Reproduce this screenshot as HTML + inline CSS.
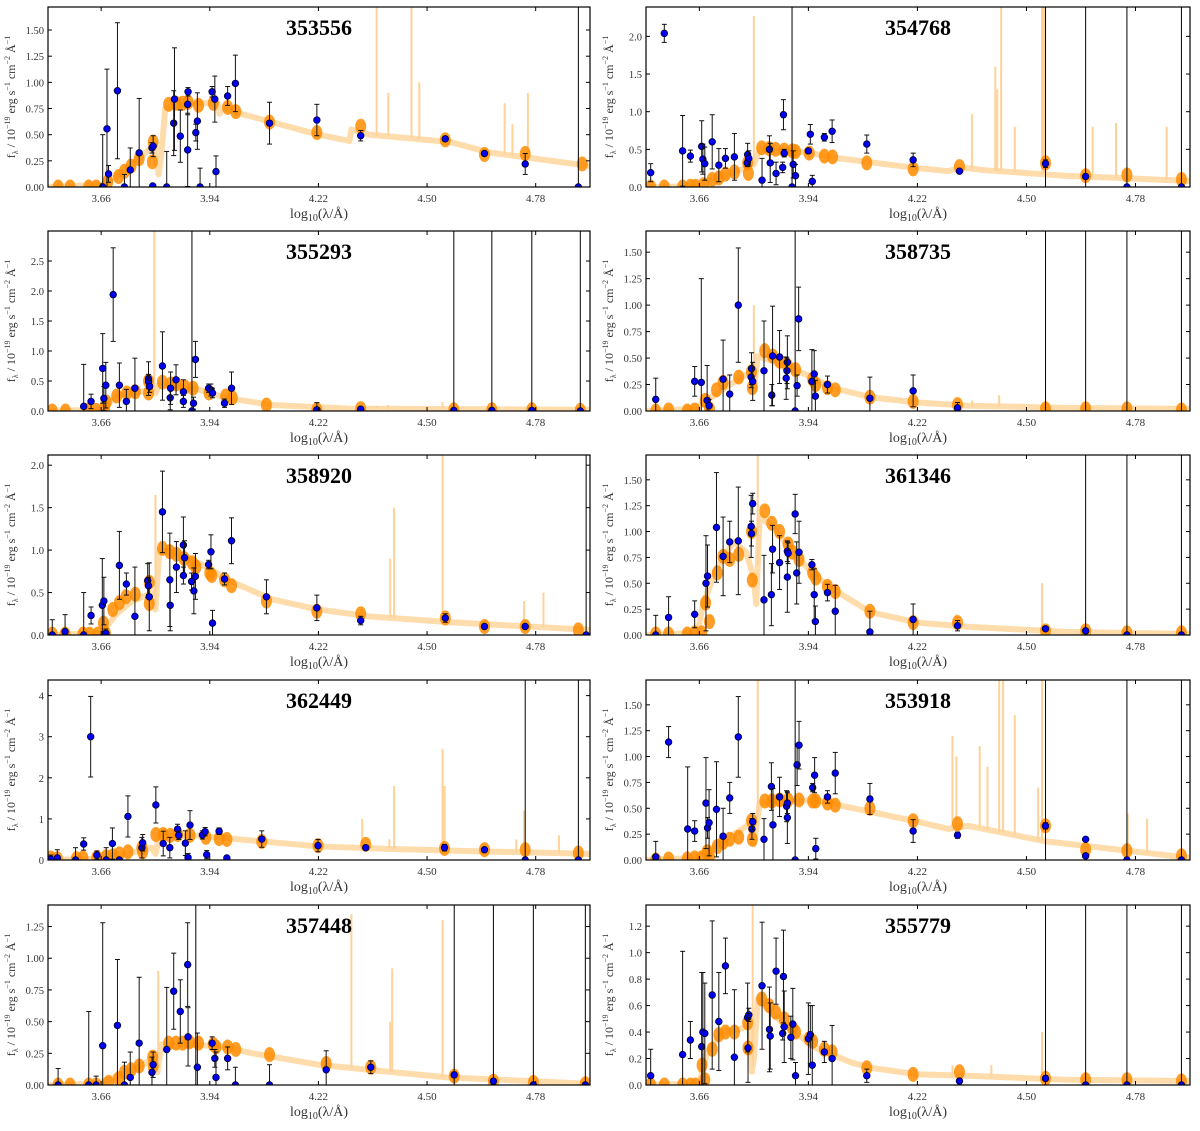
<!DOCTYPE html>
<html><head><meta charset="utf-8">
<style>
html,body{margin:0;padding:0;background:#fff;}
svg text{font-family:"Liberation Serif",serif;}
</style></head>
<body>
<svg id="fig" width="1200" height="1126" xmlns="http://www.w3.org/2000/svg"></svg>
<script>
// ---- data (log10 lambda, flux) ----
const xTicks=[3.66,3.94,4.22,4.50,4.78];
const xTickLabels=["3.66","3.94","4.22","4.50","4.78"];
const panelNames=["353556","354768","355293","358735","358920","361346","362449","353918","357448","355779"];
const panelYMax=[1.72,2.39,3.0,1.70,2.12,1.74,4.38,1.74,1.42,1.36];
const panelYTicks=[[0,0.25,0.5,0.75,1,1.25,1.5],[0,0.5,1,1.5,2],[0,0.5,1,1.5,2,2.5],[0,0.25,0.5,0.75,1,1.25,1.5],[0,0.5,1,1.5,2],[0,0.25,0.5,0.75,1,1.25,1.5],[0,1,2,3,4],[0,0.25,0.5,0.75,1,1.25,1.5],[0,0.25,0.5,0.75,1,1.25],[0,0.2,0.4,0.6,0.8,1,1.2]];
const panelYTickLabels=[["0.00","0.25","0.50","0.75","1.00","1.25","1.50"],["0.0","0.5","1.0","1.5","2.0"],["0.0","0.5","1.0","1.5","2.0","2.5"],["0.00","0.25","0.50","0.75","1.00","1.25","1.50"],["0.0","0.5","1.0","1.5","2.0"],["0.00","0.25","0.50","0.75","1.00","1.25","1.50"],["0","1","2","3","4"],["0.00","0.25","0.50","0.75","1.00","1.25","1.50"],["0.00","0.25","0.50","0.75","1.00","1.25"],["0.0","0.2","0.4","0.6","0.8","1.0","1.2"]];

// observed photometry [x, y, err]
const obs0=[[3.664,0,0.5],[3.675,0.556,0.57],[3.679,0.125,0.08],[3.702,0.92,0.65],[3.720,0,0.12],[3.735,0.163,0.21],[3.758,0.326,0.52],[3.791,0.374,0.05],[3.794,0.39,0.1],[3.793,0.01,0],[3.829,0,0.34],[3.847,0.61,0.31],[3.849,0.84,0.49],[3.864,0.486,0.25],[3.883,0.79,0.1],[3.884,0.91,0.04],[3.883,0.355,0.35],[3.904,0.52,0.08],[3.908,0.63,0.27],[3.915,0,0.18],[3.946,0.91,0.05],[3.953,0.84,0.22],[3.956,0.147,0.15],[3.986,0.87,0.09],[4.006,0.99,0.27],[4.094,0.61,0.2],[4.216,0.64,0.15],[4.329,0.49,0.05],[4.547,0.46,0.02],[4.648,0.32,0.02],[4.753,0.22,0.1],[4.89,0,0]];
const obs1=[[3.535,0.19,0.12],[3.57,2.04,0.12],[3.617,0.48,0.47],[3.637,0.41,0.08],[3.666,0.54,0.34],[3.669,0.37,0.2],[3.674,0.31,0.22],[3.693,0.6,0.36],[3.71,0.29,0.22],[3.727,0.38,0.13],[3.75,0.4,0.31],[3.784,0.43,0.15],[3.783,0.32,0.05],[3.787,0.38,0.1],[3.821,0.09,0.29],[3.84,0.5,0.18],[3.842,0.32,0.26],[3.857,0.18,0.15],[3.874,0.26,0.07],[3.876,0.96,0.2],[3.878,0.45,0.05],[3.901,0.3,0.18],[3.907,0.15,0.15],[3.94,0.48,0.03],[3.945,0.7,0.13],[3.95,0.075,0.08],[3.981,0.66,0.05],[4.001,0.74,0.15],[4.09,0.57,0.12],[4.209,0.36,0.09],[4.328,0.21,0.03],[4.549,0.31,0.05],[4.652,0.14,0.02],[4.758,0,0],[4.898,0,0],[3.898,0,0]];
const obs2=[[3.615,0.077,0.7],[3.634,0.16,0.12],[3.664,0.71,0.58],[3.667,0.21,0.2],[3.672,0.43,0.38],[3.691,1.94,0.78],[3.707,0.43,0.37],[3.725,0.16,0.2],[3.747,0.38,0.5],[3.782,0.54,0.28],[3.782,0.49,0.12],[3.785,0.41,0.1],[3.818,0.75,0.57],[3.838,0.22,0.2],[3.839,0.38,0.27],[3.853,0.52,0.25],[3.872,0.32,0.2],[3.872,0.16,0.1],[3.894,0,0],[3.898,0.13,0.1],[3.903,0.86,0.3],[3.937,0.38,0.07],[3.943,0.35,0.1],[3.947,0.3,0.08],[3.978,0.13,0.07],[3.996,0.38,0.27],[4.216,0.02,0.12],[4.329,0.03,0.03],[4.569,0.01,0],[4.667,0.01,0],[4.77,0.01,0],[4.895,0,0]];
const obs3=[[3.548,0.11,0.2],[3.648,0.28,0.14],[3.665,0.27,0.98],[3.68,0.1,0.33],[3.685,0.05,0.06],[3.721,0.3,0.37],[3.738,0.16,0.18],[3.76,1.0,0.54],[3.793,0.32,0.1],[3.794,0.4,0.15],[3.797,0.28,0.18],[3.826,0.38,0.47],[3.846,0.15,0.1],[3.848,0.52,0.47],[3.866,0.51,0.25],[3.886,0.46,0.25],[3.885,0.38,0.12],[3.883,0.31,0.2],[3.911,0.24,0.1],[3.915,0.87,0.3],[3.949,0.28,0.3],[3.955,0.35,0.22],[3.958,0.14,0.15],[3.989,0.25,0.08],[4.098,0.12,0.2],[4.209,0.19,0.15],[4.323,0.03,0.05],[3.906,0,0]];
const obs4=[[3.534,0,0.18],[3.567,0.04,0.2],[3.615,0,0.5],[3.634,0.23,0.1],[3.663,0.35,0.55],[3.667,0.4,0.28],[3.672,0.02,0.05],[3.707,0.82,0.4],[3.725,0.6,0.13],[3.747,0.22,0.58],[3.780,0.64,0.2],[3.782,0.58,0.1],[3.784,0.45,0.4],[3.818,1.45,0.48],[3.838,0.35,0.3],[3.837,0.65,0.55],[3.854,0.8,0.3],[3.872,1.06,0.33],[3.875,0.91,0.2],[3.872,0.7,0.1],[3.893,0.63,0.1],[3.899,0.52,0.27],[3.903,0.69,0.27],[3.937,0.83,0.05],[3.943,0.98,0.2],[3.947,0.14,0.15],[3.978,0.66,0.07],[3.996,1.11,0.27],[4.086,0.45,0.2],[4.216,0.32,0.15],[4.329,0.17,0.05],[4.547,0.2,0.05],[4.648,0.1,0.02],[4.753,0.1,0.02],[4.91,0,0]];
const obs5=[[3.548,0,0.19],[3.581,0.17,0.2],[3.648,0.2,0.13],[3.677,0.5,0.46],[3.681,0.57,0.3],[3.704,1.04,0.53],[3.721,0.76,0.38],[3.738,0.9,0.2],[3.76,0.91,0.52],[3.793,1.05,0.3],[3.794,0.98,0.12],[3.797,1.27,0.1],[3.826,0.34,0.43],[3.845,0.39,0.3],[3.848,0.83,0.23],[3.866,0.7,0.26],[3.886,0.56,0.34],[3.886,0.81,0.1],[3.888,0.79,0.1],[3.906,1.17,0.19],[3.91,0.6,0.3],[3.916,0.8,0.3],[3.949,0.68,0.05],[3.955,0.39,0.25],[3.958,0.13,0.15],[3.989,0.41,0.08],[4.009,0.23,0.25],[4.098,0.03,0.2],[4.209,0.15,0.15],[4.323,0.09,0.05],[4.549,0.06,0.02],[4.652,0.04,0.02],[4.758,0,0],[4.898,0,0]];
const obs6=[[3.53,0.02,0.1],[3.547,0.05,0.2],[3.594,0,0.3],[3.615,0.39,0.15],[3.633,3.0,0.98],[3.649,0.12,0.1],[3.673,0,0.3],[3.689,0.4,0.38],[3.707,0,0],[3.729,1.06,0.5],[3.765,0.3,0.25],[3.767,0.42,0.2],[3.801,1.34,0.44],[3.820,0.4,0.3],[3.837,0.3,0.25],[3.857,0.75,0.12],[3.860,0.6,0.1],[3.877,0.41,0.3],[3.889,0.85,0.35],[3.884,0.06,0.1],[3.921,0.61,0.1],[3.928,0.69,0.1],[3.932,0.13,0.1],[3.964,0.7,0.08],[3.984,0.05,0.05],[4.074,0.51,0.2],[4.219,0.35,0.15],[4.342,0.3,0.05],[4.545,0.3,0.08],[4.648,0.25,0.05],[4.753,0,0],[4.89,0,0]];
const obs7=[[3.548,0.03,0.15],[3.581,1.14,0.15],[3.63,0.3,0.6],[3.648,0.28,0.1],[3.677,0.55,0.44],[3.681,0.31,0.1],[3.685,0.36,0.32],[3.704,0.49,0.46],[3.721,0.23,0.27],[3.738,0.6,0.15],[3.76,1.19,0.39],[3.795,0.3,0.1],[3.797,0.37,0.08],[3.826,0.2,0.2],[3.845,0.71,0.23],[3.849,0.34,0.35],[3.866,0.61,0.19],[3.884,0.52,0.15],[3.886,0.55,0.1],[3.886,0.41,0.25],[3.911,0.92,0.2],[3.916,1.11,0.23],[3.951,0.7,0.04],[3.956,0.82,0.17],[3.959,0.11,0.1],[3.989,0.61,0.06],[4.009,0.84,0.2],[4.098,0.59,0.15],[4.209,0.28,0.11],[4.323,0.24,0.03],[4.549,0.33,0.03],[4.652,0.2,0.02],[4.652,0.04,0.02],[3.906,0,0],[4.758,0,0],[4.898,0,0]];
const obs8=[[3.549,0,0.13],[3.628,0,0.58],[3.647,0,0.07],[3.664,0.31,0.97],[3.702,0.47,0.52],[3.720,0,0.18],[3.735,0.06,0.2],[3.758,0.33,0.52],[3.791,0.1,0.12],[3.794,0.16,0.1],[3.829,0.28,0.49],[3.847,0.74,0.3],[3.864,0.58,0.25],[3.883,0.95,0.33],[3.884,0.38,0.23],[3.908,0.14,0.27],[3.946,0.33,0.05],[3.953,0.21,0.07],[3.956,0.06,0.2],[3.986,0.21,0.09],[4.006,0,0.14],[4.094,0,0.16],[4.24,0.12,0.15],[4.355,0.14,0.05],[4.57,0.08,0.02],[4.671,0.03,0.02],[4.774,0,0],[4.908,0,0]];
const obs9=[[3.535,0.07,0.2],[3.617,0.23,0.78],[3.637,0.34,0.14],[3.666,0.29,0.56],[3.669,0.4,0.45],[3.674,0.39,0.38],[3.693,0.68,0.56],[3.71,0.48,0.37],[3.727,0.9,0.21],[3.75,0.21,0.51],[3.784,0.51,0.26],[3.787,0.53,0.05],[3.785,0.28,0.26],[3.821,0.75,0.48],[3.84,0.42,0.32],[3.842,0.37,0.25],[3.857,0.86,0.25],[3.874,0.39,0.05],[3.876,0.82,0.35],[3.878,0.44,0.27],[3.9,0.46,0.27],[3.895,0.36,0.16],[3.907,0.07,0.1],[3.94,0.35,0.27],[3.945,0.38,0.22],[3.95,0.15,0.45],[3.981,0.25,0.08],[4.001,0.2,0.25],[4.09,0.07,0.05],[4.328,0.03,0.02],[4.549,0.05,0.02],[4.652,0,0],[4.758,0,0],[4.898,0,0]];
const panelObs=[obs0,obs1,obs2,obs3,obs4,obs5,obs6,obs7,obs8,obs9];

// x positions of error bars extending off the top of the axes
const panelBigErr=[[4.89],[3.898,4.549,4.652,4.758,4.898],[3.894,4.569,4.667,4.77,4.895],[3.906,4.549,4.652,4.758,4.898],[4.91],[4.652,4.758,4.898],[4.753,4.89],[3.906,4.549,4.758,4.898],[3.904,4.57,4.671,4.774,4.908],[4.549,4.652,4.758,4.898]];

// model photometry [x, y]
const mod0=[[3.549,0],[3.58,0],[3.628,0],[3.647,0],[3.677,0.05],[3.705,0.1],[3.72,0.15],[3.737,0.2],[3.758,0.27],[3.794,0.43],[3.792,0.24],[3.834,0.79],[3.853,0.8],[3.870,0.8],[3.884,0.81],[3.911,0.78],[3.949,0.8],[3.986,0.76],[4.007,0.72],[4.094,0.62],[4.216,0.52],[4.329,0.58],[4.547,0.45],[4.648,0.31],[4.753,0.32],[4.90,0.22]];
const mod1=[[3.535,0],[3.57,0],[3.617,0],[3.637,0.01],[3.65,0.01],[3.671,0.03],[3.693,0.1],[3.71,0.12],[3.727,0.17],[3.75,0.2],[3.784,0.32],[3.786,0.18],[3.82,0.52],[3.839,0.51],[3.856,0.5],[3.878,0.49],[3.899,0.48],[3.907,0.47],[3.942,0.45],[3.981,0.41],[4.002,0.4],[4.09,0.32],[4.209,0.24],[4.328,0.27],[4.549,0.32],[4.652,0.15],[4.758,0.16],[4.898,0.1]];
const mod2=[[3.534,0],[3.568,0],[3.626,0.01],[3.647,0.01],[3.669,0.05],[3.673,0.15],[3.70,0.25],[3.726,0.3],[3.748,0.32],[3.782,0.3],[3.782,0.5],[3.818,0.48],[3.840,0.45],[3.854,0.45],[3.876,0.4],[3.897,0.38],[3.938,0.3],[3.981,0.25],[3.998,0.22],[4.086,0.1],[4.216,0.02],[4.329,0.04],[4.569,0.02],[4.667,0.02],[4.77,0.02],[4.895,0.01]];
const mod3=[[3.548,0],[3.581,0.01],[3.629,0],[3.648,0.01],[3.675,0.1],[3.686,0.02],[3.704,0.2],[3.721,0.27],[3.761,0.32],[3.794,0.37],[3.796,0.22],[3.828,0.57],[3.848,0.52],[3.866,0.47],[3.886,0.43],[3.907,0.39],[3.951,0.3],[3.959,0.25],[3.989,0.22],[4.009,0.2],[4.098,0.13],[4.209,0.09],[4.323,0.06],[4.549,0.02],[4.652,0.02],[4.758,0.02],[4.898,0.01]];
const mod4=[[3.534,0.01],[3.567,0.01],[3.613,0.01],[3.63,0.01],[3.651,0.01],[3.666,0.14],[3.671,0.02],[3.69,0.3],[3.707,0.38],[3.724,0.45],[3.748,0.48],[3.784,0.62],[3.784,0.37],[3.818,1.02],[3.837,0.98],[3.854,0.95],[3.874,0.9],[3.895,0.85],[3.904,0.8],[3.940,0.73],[3.945,0.7],[3.978,0.65],[3.996,0.58],[4.086,0.4],[4.216,0.28],[4.329,0.25],[4.547,0.2],[4.648,0.1],[4.753,0.1],[4.89,0.06]];
const mod5=[[3.548,0.01],[3.581,0.01],[3.629,0.01],[3.648,0.02],[3.666,0.02],[3.676,0.31],[3.686,0.13],[3.706,0.6],[3.721,0.76],[3.738,0.73],[3.761,0.78],[3.794,1.0],[3.796,0.53],[3.828,1.2],[3.846,1.08],[3.866,1.0],[3.888,0.88],[3.899,0.8],[3.916,0.73],[3.951,0.6],[3.959,0.55],[3.989,0.47],[4.009,0.42],[4.098,0.23],[4.209,0.12],[4.323,0.12],[4.549,0.04],[4.652,0.04],[4.758,0.02],[4.898,0.02]];
const mod6=[[3.53,0.05],[3.547,0.03],[3.596,0.03],[3.613,0.05],[3.649,0.06],[3.673,0.08],[3.69,0.1],[3.707,0.15],[3.729,0.2],[3.765,0.3],[3.767,0.2],[3.801,0.62],[3.820,0.62],[3.838,0.6],[3.857,0.62],[3.889,0.6],[3.93,0.55],[3.964,0.52],[3.984,0.5],[4.074,0.45],[4.219,0.35],[4.342,0.38],[4.545,0.28],[4.648,0.25],[4.753,0.25],[4.89,0.17]];
const mod7=[[3.548,0],[3.581,0.01],[3.629,0.01],[3.648,0.02],[3.666,0.02],[3.68,0.08],[3.686,0.03],[3.706,0.13],[3.721,0.17],[3.738,0.2],[3.761,0.22],[3.794,0.38],[3.796,0.2],[3.828,0.57],[3.846,0.57],[3.866,0.58],[3.888,0.58],[3.916,0.58],[3.951,0.57],[3.959,0.57],[3.989,0.55],[4.009,0.53],[4.098,0.5],[4.209,0.38],[4.323,0.35],[4.549,0.33],[4.652,0.1],[4.758,0.09],[4.898,0.04]];
const mod8=[[3.549,0],[3.58,0],[3.628,0],[3.647,0],[3.679,0.02],[3.705,0.05],[3.72,0.1],[3.737,0.12],[3.758,0.15],[3.793,0.22],[3.794,0.15],[3.834,0.33],[3.853,0.33],[3.870,0.33],[3.887,0.34],[3.911,0.33],[3.949,0.32],[3.956,0.3],[3.986,0.3],[4.007,0.28],[4.094,0.24],[4.24,0.17],[4.355,0.14],[4.57,0.07],[4.671,0.03],[4.774,0.02],[4.908,0.01]];
const mod9=[[3.535,0],[3.57,0],[3.617,0],[3.637,0],[3.65,0],[3.667,0.15],[3.674,0.04],[3.693,0.27],[3.71,0.38],[3.727,0.4],[3.75,0.4],[3.784,0.47],[3.785,0.28],[3.82,0.65],[3.839,0.6],[3.856,0.55],[3.878,0.5],[3.899,0.43],[3.907,0.4],[3.942,0.35],[3.951,0.33],[3.981,0.27],[4.001,0.25],[4.09,0.13],[4.209,0.08],[4.328,0.1],[4.549,0.05],[4.652,0.04],[4.758,0.04],[4.898,0.03]];
const panelModel=[mod0,mod1,mod2,mod3,mod4,mod5,mod6,mod7,mod8,mod9];

// model spectrum continuum [x, y]
const cont0=[[3.52,0],[3.66,0.02],[3.72,0.15],[3.79,0.38],[3.80,0.4],[3.808,0.12],[3.815,0.3],[3.825,0.75],[3.90,0.8],[3.96,0.8],[3.965,0.7],[3.975,0.76],[4.02,0.7],[4.22,0.5],[4.30,0.44],[4.305,0.55],[4.35,0.5],[4.56,0.43],[4.66,0.33],[4.92,0.2]];
const cont1=[[3.52,0],[3.64,0.01],[3.70,0.12],[3.78,0.25],[3.80,0.3],[3.815,0.5],[3.93,0.46],[4.02,0.38],[4.22,0.25],[4.30,0.21],[4.33,0.26],[4.4,0.22],[4.6,0.15],[4.92,0.08]];
const cont2=[[3.52,0],[3.66,0.02],[3.70,0.25],[3.79,0.35],[3.80,0.3],[3.81,0.45],[3.90,0.38],[3.98,0.22],[4.1,0.1],[4.3,0.04],[4.92,0.02]];
const cont3=[[3.52,0],[3.65,0.02],[3.70,0.15],[3.76,0.3],[3.79,0.36],[3.80,0.2],[3.81,0.52],[3.87,0.44],[3.95,0.32],[4.0,0.22],[4.1,0.13],[4.22,0.08],[4.35,0.05],[4.6,0.03],[4.92,0.02]];
const cont4=[[3.52,0],[3.66,0.02],[3.70,0.25],[3.74,0.4],[3.795,0.5],[3.80,0.3],[3.81,1.0],[3.87,0.95],[3.95,0.75],[4.0,0.62],[4.1,0.42],[4.22,0.3],[4.35,0.22],[4.56,0.15],[4.92,0.06]];
const cont5=[[3.52,0],[3.655,0.02],[3.67,0.3],[3.70,0.6],[3.72,0.75],[3.75,0.9],[3.78,0.8],[3.80,0.55],[3.806,0.3],[3.815,1.15],[3.86,1.0],[3.90,0.8],[3.95,0.6],[4.0,0.45],[4.1,0.22],[4.22,0.12],[4.35,0.08],[4.6,0.03],[4.92,0.01]];
const cont6=[[3.52,0],[3.65,0.03],[3.75,0.2],[3.79,0.3],[3.80,0.15],[3.81,0.58],[3.90,0.6],[4.02,0.5],[4.22,0.33],[4.4,0.27],[4.6,0.22],[4.92,0.15]];
const cont7=[[3.52,0],[3.65,0.02],[3.72,0.18],[3.79,0.35],[3.80,0.15],[3.815,0.55],[3.96,0.58],[4.03,0.52],[4.22,0.37],[4.30,0.3],[4.35,0.33],[4.55,0.18],[4.92,0.02]];
const cont8=[[3.52,0],[3.65,0.01],[3.75,0.13],[3.80,0.22],[3.805,0.1],[3.815,0.32],[3.96,0.31],[4.05,0.25],[4.22,0.16],[4.35,0.12],[4.55,0.06],[4.92,0.01]];
const cont9=[[3.52,0],[3.66,0.01],[3.68,0.25],[3.72,0.4],[3.76,0.42],[3.79,0.45],[3.795,0.1],[3.80,0.2],[3.81,0.65],[3.88,0.45],[3.96,0.28],[4.05,0.17],[4.1,0.13],[4.22,0.08],[4.35,0.07],[4.6,0.04],[4.92,0.03]];
const panelCont=[cont0,cont1,cont2,cont3,cont4,cont5,cont6,cont7,cont8,cont9];

// emission lines [x, peak]
const lines0=[[4.37,1.72],[4.40,0.9],[4.46,1.72],[4.48,1.0],[4.70,0.8],[4.76,0.9],[4.72,0.6]];
const lines1=[[3.80,2.27],[4.36,0.97],[4.42,1.6],[4.425,1.3],[4.435,2.39],[4.47,0.8],[4.54,2.39],[4.545,2.39],[4.67,0.8],[4.73,0.85],[4.86,0.8]];
const lines2=[[3.797,3.0],[4.37,0.08],[4.40,0.1],[4.54,0.15]];
const lines3=[[3.80,1.0],[4.36,0.1],[4.43,0.15]];
const lines4=[[3.80,1.65],[4.54,2.12],[4.415,1.5],[4.405,0.9],[4.33,0.3],[4.75,0.4],[4.80,0.5]];
const lines5=[[3.81,1.74],[4.32,0.2],[4.54,0.5]];
const lines6=[[4.54,2.7],[4.545,1.8],[4.415,1.8],[4.403,0.5],[4.333,1.0],[4.75,1.2],[4.73,0.5],[4.84,0.6]];
const lines7=[[3.81,1.74],[4.31,1.2],[4.32,1.0],[4.38,1.1],[4.40,0.9],[4.43,1.74],[4.44,1.74],[4.47,1.4],[4.54,1.74],[4.53,0.7],[4.76,0.45],[4.81,0.4]];
const lines8=[[3.807,0.9],[4.305,1.35],[4.41,0.92],[4.405,0.5],[4.54,1.3]];
const lines9=[[3.797,1.36],[4.54,0.4],[4.31,0.15],[4.41,0.15]];
const panelLines=[lines0,lines1,lines2,lines3,lines4,lines5,lines6,lines7,lines8,lines9];

const XMIN=3.523, XMAX=4.92;
const NS="http://www.w3.org/2000/svg";
const svg=document.getElementById('fig');
function mk(tag,attrs,parent){const e=document.createElementNS(NS,tag);for(const k in attrs)e.setAttribute(k,attrs[k]);(parent||svg).appendChild(e);return e;}

const colX=[[48,590],[646,1190]];
const rowTop=[7,231,455,680,905];
const PH=180;

panelNames.forEach((name,i)=>{
  const col=i%2,row=Math.floor(i/2);
  const x0=colX[col][0],x1=colX[col][1],y0=rowTop[row],y1=y0+PH;
  const ymax=panelYMax[i];
  const sx=v=>x0+(v-XMIN)/(XMAX-XMIN)*(x1-x0);
  const sy=v=>y1-(v/ymax)*PH;
  const g=mk('g',{});
  
  
  const cid='clip'+i;
  const cp=mk('clipPath',{id:cid},g);mk('rect',{x:x0,y:y0,width:x1-x0,height:PH},cp);
  const pg=mk('g',{'clip-path':'url(#'+cid+')'},g);
  const band=mk('polyline',{points:panelCont[i].map(p=>sx(p[0])+','+sy(p[1])).join(' '),fill:'none',stroke:'#ffdcab','stroke-width':6,'stroke-linejoin':'round'},pg);
  
  
  const cont=panelCont[i];
  function contAt(x){for(let k=0;k<cont.length-1;k++){if(x>=cont[k][0]&&x<=cont[k+1][0]){const t=(x-cont[k][0])/(cont[k+1][0]-cont[k][0]);return cont[k][1]+t*(cont[k+1][1]-cont[k][1]);}}return 0;}
  panelLines[i].forEach(l=>{
    const ln=mk('line',{x1:sx(l[0]),x2:sx(l[0]),y1:sy(contAt(l[0])),y2:sy(l[1]),stroke:'#ffd29a','stroke-width':2},pg);
    
    
  });
  panelModel[i].forEach(p=>{
    const e=mk('ellipse',{cx:sx(p[0]),cy:sy(p[1]),rx:5.5,ry:7.5,fill:'#ff8c00','fill-opacity':0.85},pg);
    
    
  });
  panelBigErr[i].forEach(x=>{
    const l=mk('line',{x1:sx(x),x2:sx(x),y1:sy(0),y2:y0,stroke:'#000','stroke-width':1},pg);
    
    
  });
  panelObs[i].forEach(p=>{
    const X=sx(p[0]);
    if(p[2]>0){
      const eb=mk('g',{stroke:'#111','stroke-width':1},pg);
      
      
      const lo=Math.max(0,p[1]-p[2]),hi=p[1]+p[2];
      mk('line',{x1:X,x2:X,y1:sy(lo),y2:sy(hi)},eb);
      mk('line',{x1:X-2.5,x2:X+2.5,y1:sy(hi),y2:sy(hi)},eb);
      mk('line',{x1:X-2.5,x2:X+2.5,y1:sy(lo),y2:sy(lo)},eb);
    }
    const c=mk('circle',{cx:X,cy:sy(p[1]),r:3.3,fill:'#0000ee',stroke:'#000033','stroke-width':0.8},pg);
    
    
  });
  const fr=mk('rect',{x:x0,y:y0,width:x1-x0,height:PH,fill:'none',stroke:'#000','stroke-width':1.2},g);
  
  
  xTicks.forEach((t,k)=>{
    const X=sx(t);
    mk('line',{x1:X,x2:X,y1:y1,y2:y1-4,stroke:'#000'},g);
    mk('line',{x1:X,x2:X,y1:y0,y2:y0+4,stroke:'#000'},g);
    const tx=mk('text',{x:X,y:y1+15,'text-anchor':'middle','font-size':11,fill:'#333'},g);
    tx.textContent=xTickLabels[k];
    
    
  });
  panelYTicks[i].forEach((t,k)=>{
    const Y=sy(t);
    mk('line',{x1:x0,x2:x0+4,y1:Y,y2:Y,stroke:'#000'},g);
    mk('line',{x1:x1,x2:x1-4,y1:Y,y2:Y,stroke:'#000'},g);
    const ty=mk('text',{x:x0-4,y:Y+4,'text-anchor':'end','font-size':10.5,fill:'#333'},g);
    ty.textContent=panelYTickLabels[i][k];
    
    
  });
  const xl=mk('text',{x:(x0+x1)/2,y:y1+31,'text-anchor':'middle','font-size':14,fill:'#333'},g);
  xl.innerHTML='log<tspan font-size="10" dy="3">10</tspan><tspan dy="-3">(λ/Å)</tspan>';
  
  
  const yl=mk('text',{transform:'translate('+(x0-33)+','+(y0+PH/2)+') rotate(-90)','text-anchor':'middle','font-size':12,fill:'#333'},g);
  yl.innerHTML='f<tspan font-size="8" dy="3">λ</tspan><tspan dy="-3"> / 10</tspan><tspan font-size="8" dy="-5">−19</tspan><tspan dy="5"> erg s</tspan><tspan font-size="8" dy="-5">−1</tspan><tspan dy="5"> cm</tspan><tspan font-size="8" dy="-5">−2</tspan><tspan dy="5"> Å</tspan><tspan font-size="8" dy="-5">−1</tspan>';
  
  
  const tt=mk('text',{x:(x0+x1)/2,y:y0+28,'text-anchor':'middle','font-size':22,'font-weight':'bold',fill:'#000'},g);
  tt.textContent=name;
  
  
});
</script>
</body></html>
